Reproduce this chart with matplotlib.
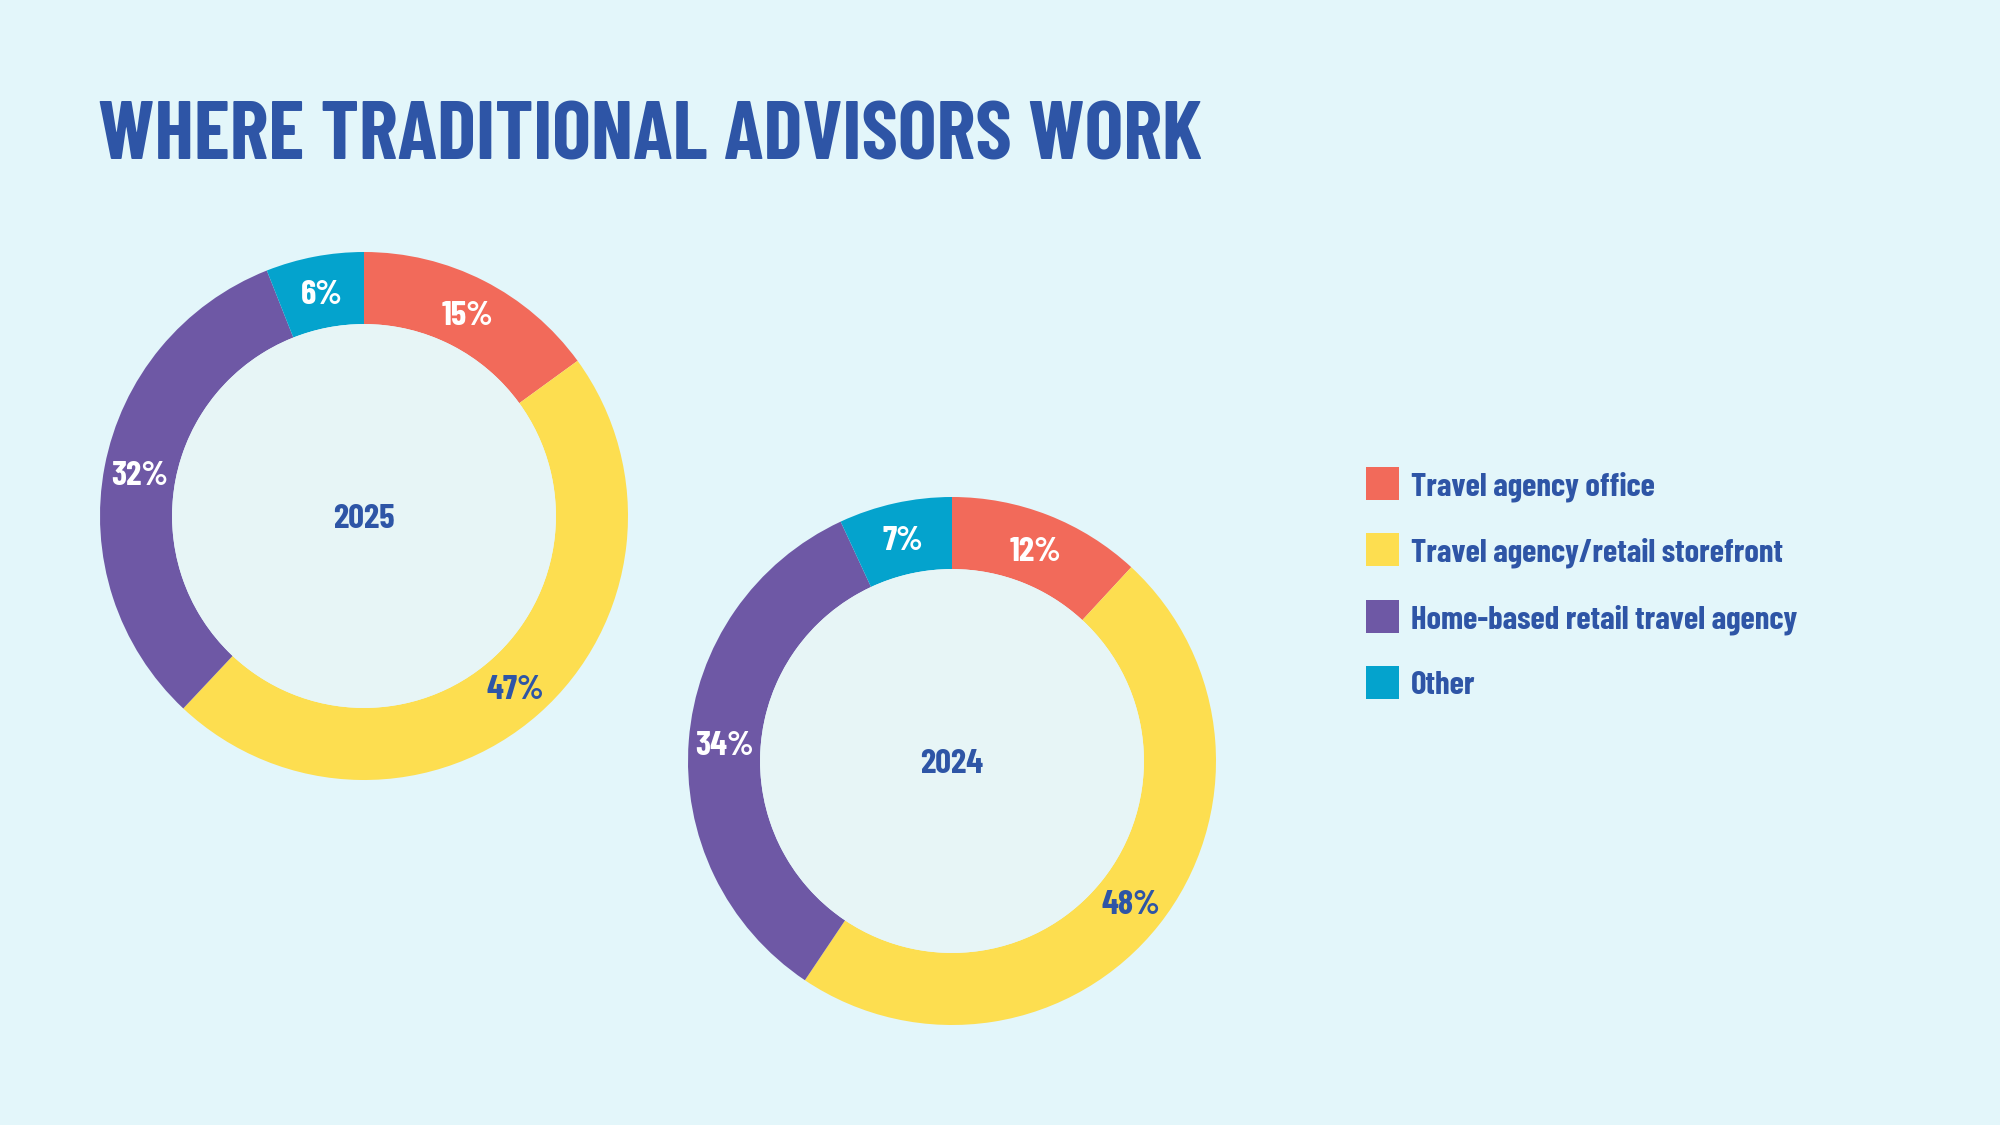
import matplotlib.pyplot as plt
from matplotlib import font_manager
from matplotlib.patches import Circle, Rectangle

# data
categories = ["Travel agency office", "Travel agency/retail storefront",
              "Home-based retail travel agency", "Other"]
years = ["2025", "2024"]
values_2025 = [15, 47, 32, 6]
values_2024 = [12, 48, 34, 7]

colors = ["#F26A5A", "#FDDE50", "#6E58A5", "#04A3CD"]
label_colors = ["white", "#2E55A6", "white", "white"]
navy = "#2E55A6"
bg = "#E3F6FA"
inner_bg = "#E7F5F6"

names = {f.name for f in font_manager.fontManager.ttflist}
font = "Barlow Condensed" if "Barlow Condensed" in names else "DejaVu Sans"
plt.rcParams["font.family"] = [font, "DejaVu Sans"]
plt.rcParams["font.weight"] = "bold"

fig = plt.figure(figsize=(20, 11.25), dpi=100, facecolor=bg)

W, H = 2000, 1125
R = 264   # outer radius in px
ring = 0.273


def donut(cx, cy, vals, year):
    ax = fig.add_axes([(cx - R) / W, 1 - (cy + R) / H, 2 * R / W, 2 * R / H])
    ax.set_facecolor("none")
    wedges, texts, autotexts = ax.pie(
        vals, colors=colors, startangle=90, counterclock=False,
        radius=1, wedgeprops=dict(width=ring, linewidth=0),
        autopct=lambda p: "", pctdistance=1 - ring / 2)
    ax.add_patch(Circle((0, 0), 1 - ring, facecolor=inner_bg, edgecolor="none"))
    for t, v, c in zip(autotexts, vals, label_colors):
        t.set_text(f"{v}%")
        t.set_color(c)
        t.set_fontsize(25)
        t.set_fontweight("bold")
        t.set_va("center_baseline")
    ax.text(0, 0, year, ha="center", va="center_baseline", color=navy,
            fontsize=25, fontweight="bold")
    ax.set_xlim(-1, 1)
    ax.set_ylim(-1, 1)
    ax.set_aspect("equal")
    ax.axis("off")


donut(364, 516, values_2025, years[0])
donut(952, 761, values_2024, years[1])

fig.text(98 / W, 1 - 159 / H, "WHERE TRADITIONAL ADVISORS WORK",
         color=navy, fontsize=59, fontweight="bold", ha="left", va="baseline")

# legend
sq = 33
row_gap = 66.3
y0 = 483.5
for i, (c, name) in enumerate(zip(colors, categories)):
    yc = y0 + i * row_gap
    fig.patches.append(Rectangle((1366 / W, 1 - (yc + sq / 2) / H), sq / W, sq / H,
                                 transform=fig.transFigure, facecolor=c,
                                 edgecolor="none"))
    fig.text(1411 / W, 1 - yc / H, name, color=navy, fontsize=23.5,
             fontweight="bold", ha="left", va="center_baseline")

fig.savefig("out.png", facecolor=bg)
